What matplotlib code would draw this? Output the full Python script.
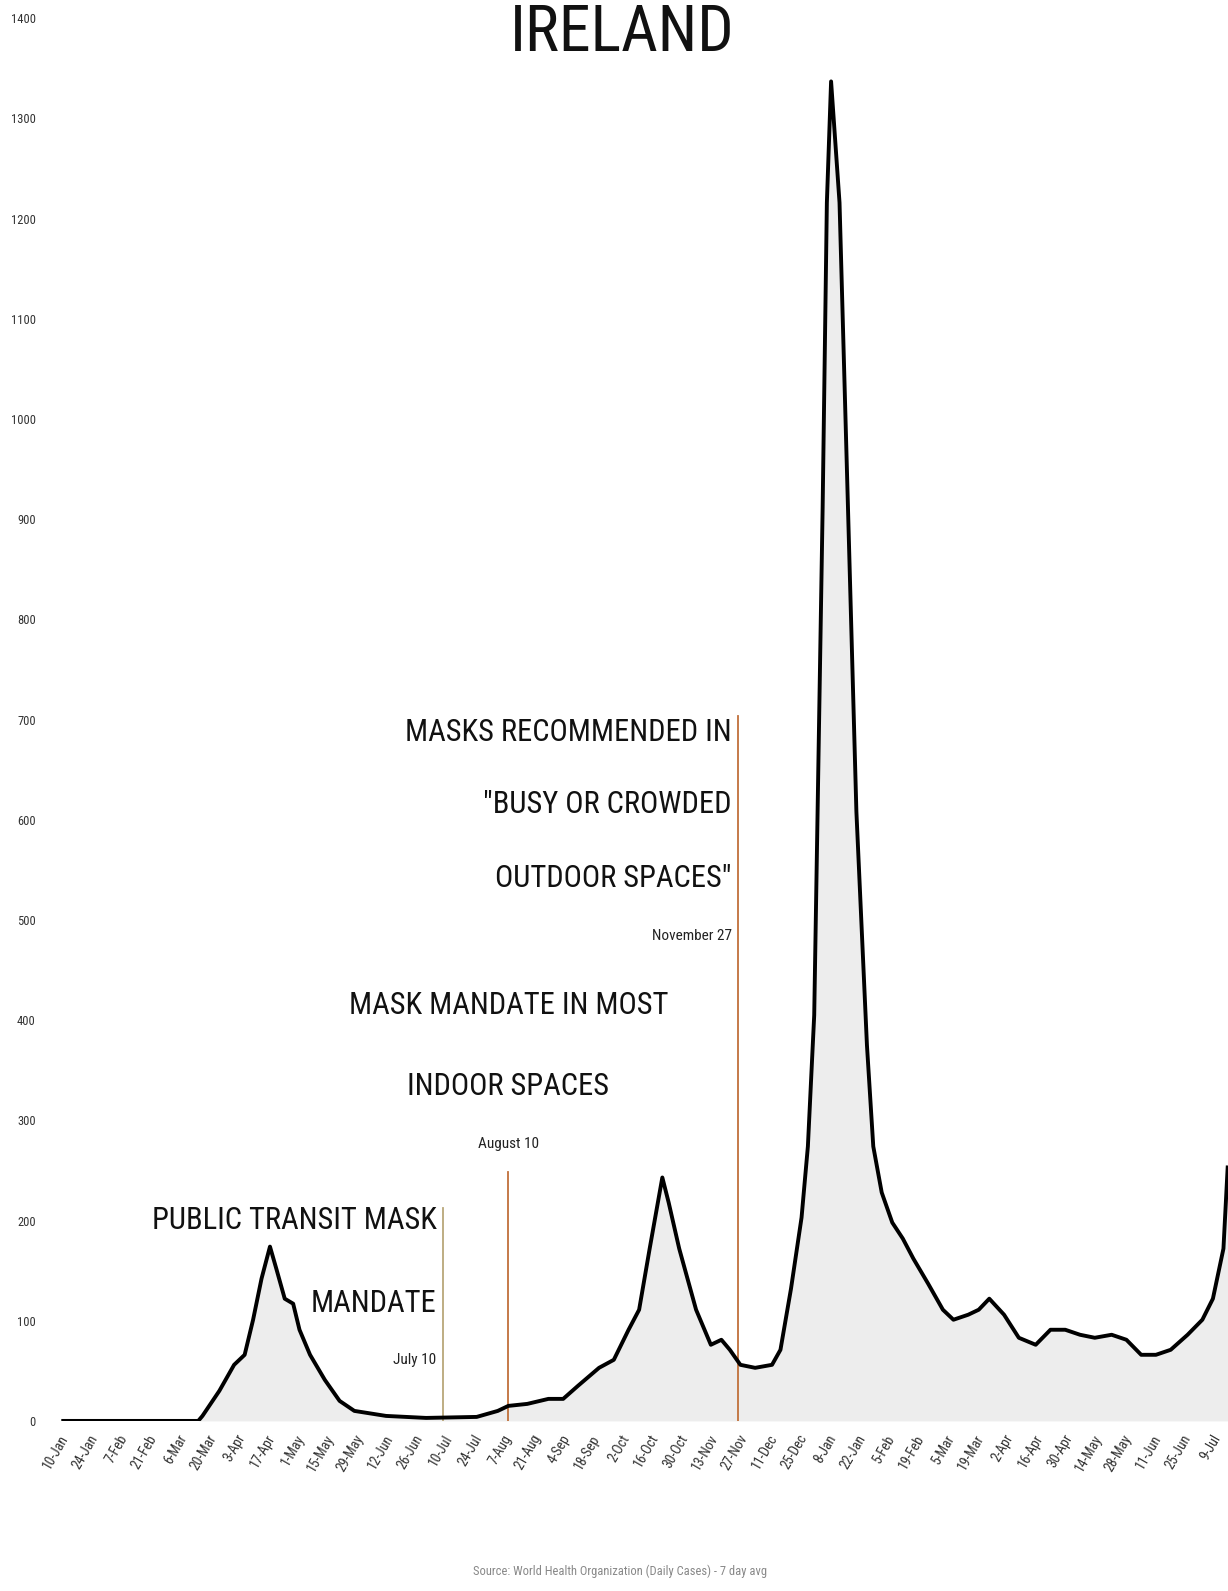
import datetime as dt
import matplotlib
matplotlib.use("Agg")
import matplotlib.pyplot as plt
from matplotlib import font_manager

# ==========================================
# Data (7-day avg daily cases per million)
# ==========================================
dates = [
    "2020-01-12", "2020-03-16", "2020-03-18", "2020-03-26", "2020-04-02",
    "2020-04-07", "2020-04-11", "2020-04-15", "2020-04-19", "2020-04-22",
    "2020-04-26", "2020-04-30", "2020-05-03", "2020-05-08", "2020-05-15",
    "2020-05-22", "2020-05-29", "2020-06-13", "2020-07-02", "2020-07-26",
    "2020-08-05", "2020-08-10", "2020-08-19", "2020-08-29", "2020-09-05",
    "2020-09-12", "2020-09-22", "2020-09-29", "2020-10-06", "2020-10-11",
    "2020-10-16", "2020-10-22", "2020-10-25", "2020-10-30", "2020-11-07",
    "2020-11-14", "2020-11-19", "2020-11-23", "2020-11-28", "2020-12-05",
    "2020-12-13", "2020-12-17", "2020-12-22", "2020-12-27", "2020-12-30",
    "2021-01-02", "2021-01-06", "2021-01-08", "2021-01-10", "2021-01-14",
    "2021-01-18", "2021-01-22", "2021-01-27", "2021-01-30", "2021-02-03",
    "2021-02-08", "2021-02-13", "2021-02-18", "2021-02-25", "2021-03-04",
    "2021-03-09", "2021-03-16", "2021-03-21", "2021-03-26", "2021-04-02",
    "2021-04-09", "2021-04-17", "2021-04-24", "2021-05-01", "2021-05-08",
    "2021-05-15", "2021-05-23", "2021-05-30", "2021-06-06", "2021-06-13",
    "2021-06-20", "2021-06-28", "2021-07-05", "2021-07-10", "2021-07-15",
    "2021-07-17",
]
cases = [
    0, 0, 5, 30, 56,
    66, 101, 142, 174, 152,
    122, 117, 91, 66, 41,
    20, 10, 5, 3, 4,
    10, 15, 17, 22, 22,
    35, 53, 61, 91, 111,
    172, 243, 218, 172, 111,
    76, 81, 71, 56, 53,
    56, 71, 132, 203, 274,
    405, 912, 1216, 1337, 1216,
    912, 608, 375, 274, 228,
    198, 182, 162, 137, 111,
    101, 106, 111, 122, 106,
    83, 76, 91, 91, 86,
    83, 86, 81, 66, 66,
    71, 86, 101, 122, 172,
    253,
]

# mandate events
event_dates = ["2020-07-10", "2020-08-10", "2020-11-27"]
event_tops = [213, 248, 704]
event_titles = [
    ["PUBLIC TRANSIT MASK", "MANDATE"],
    ["MASK MANDATE IN MOST", "INDOOR SPACES"],
    ["MASKS RECOMMENDED IN", "\"BUSY OR CROWDED", "OUTDOOR SPACES\""],
]
event_subs = ["July 10", "August 10", "November 27"]
event_colors = ["#b9a77a", "#c0703a", "#c0703a"]

yticks = list(range(0, 1401, 100))

# ==========================================
# Font selection (narrow if available)
# ==========================================
names = {f.name for f in font_manager.fontManager.ttflist}
narrow = "DejaVu Sans"
for cand in ["Roboto Condensed", "Liberation Sans Narrow", "DejaVu Sans Condensed"]:
    if cand in names:
        narrow = cand
        break
FAM = [narrow, "DejaVu Sans"]

# ==========================================
# Plot
# ==========================================
to_dt = lambda s: dt.datetime.strptime(s, "%Y-%m-%d")
x = [to_dt(d) for d in dates]

fig = plt.figure(figsize=(12.28, 15.91), dpi=100)
ax = fig.add_axes([0.0326, 0.1069, 0.974, 0.8816])

ax.fill_between(x, 0, cases, color="#e6e6e6", alpha=0.7, lw=0, zorder=1)
ax.plot(x, cases, color="black", lw=2.8, zorder=3, solid_joinstyle="round")

for d, top, col in zip(event_dates, event_tops, event_colors):
    ax.plot([to_dt(d), to_dt(d)], [0, top], color=col, lw=1.3, zorder=2)

# annotation text
off = dt.timedelta(days=3)
ev = [to_dt(d) for d in event_dates]
BIG = 22
SMALL = 11

ax.text(ev[0] - off, 200, event_titles[0][0], ha="right", va="center",
        fontsize=BIG, family=FAM, color="#111111")
ax.text(ev[0] - off, 117, event_titles[0][1], ha="right", va="center",
        fontsize=BIG, family=FAM, color="#111111")
ax.text(ev[0] - off, 61, event_subs[0], ha="right", va="center",
        fontsize=SMALL, family=FAM, color="#222222")

ax.text(ev[1], 415, event_titles[1][0], ha="center", va="center",
        fontsize=BIG, family=FAM, color="#111111")
ax.text(ev[1], 334, event_titles[1][1], ha="center", va="center",
        fontsize=BIG, family=FAM, color="#111111")
ax.text(ev[1], 276, event_subs[1], ha="center", va="center",
        fontsize=SMALL, family=FAM, color="#222222")

for i, yv in enumerate([687, 615, 541]):
    ax.text(ev[2] - off, yv, event_titles[2][i], ha="right", va="center",
            fontsize=BIG, family=FAM, color="#111111")
ax.text(ev[2] - off, 484, event_subs[2], ha="right", va="center",
        fontsize=SMALL, family=FAM, color="#222222")

# axes styling
ax.set_ylim(0, 1400)
ax.set_xlim(dt.datetime(2020, 1, 1), dt.datetime(2021, 7, 21))
ax.set_yticks(yticks)
ax.set_yticklabels([str(v) for v in yticks], family=FAM, fontsize=9, color="#333333")

# biweekly date ticks
xt = []
d0 = dt.datetime(2020, 1, 10)
while d0 <= dt.datetime(2021, 7, 10):
    xt.append(d0)
    d0 += dt.timedelta(days=14)
ax.set_xticks(xt)
ax.set_xticklabels([f"{d.day}-{d.strftime('%b')}" for d in xt], rotation=60,
                   ha="right", rotation_mode="anchor", family=FAM,
                   fontsize=10, color="#333333")
ax.tick_params(axis="x", length=0, pad=8)
ax.tick_params(axis="y", length=0, pad=3)
for s in ax.spines.values():
    s.set_visible(False)

fig.text(0.507, 0.999, "IRELAND", ha="center", va="top", fontsize=46,
         family=FAM, color="#111111")
fig.text(0.505, 0.008, "Source: World Health Organization (Daily Cases) - 7 day avg",
         ha="center", va="bottom", fontsize=9, family=FAM, color="#888888")

fig.savefig("out.png", dpi=100)
